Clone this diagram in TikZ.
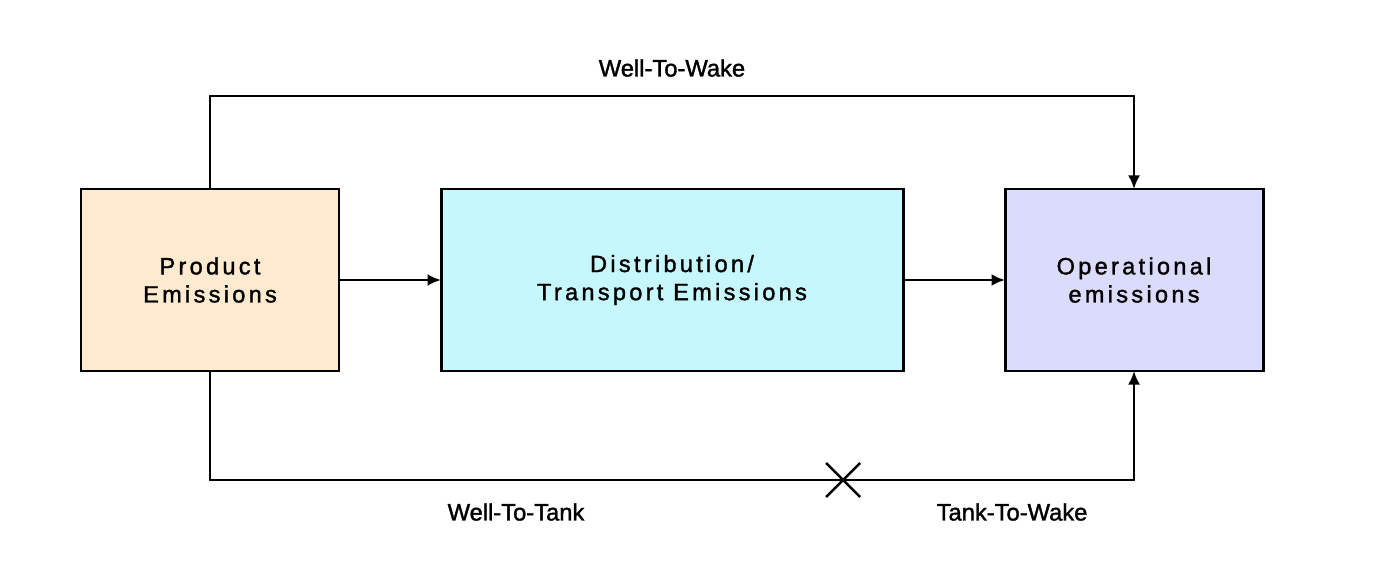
\documentclass[tikz,border=0pt]{standalone}
\usepackage{fontspec}
\setmainfont{Liberation Sans}
\usepackage{tikz}
\usetikzlibrary{arrows.meta, positioning}

\definecolor{prodfill}{HTML}{FEEBCF}
\definecolor{distfill}{HTML}{C6F7FC}
\definecolor{operfill}{HTML}{DBDBFC}

\begin{document}
\begin{tikzpicture}[
		node distance=2.04cm,
		every node/.style={font=\fontsize{12.5}{15}\selectfont},
		block/.style={
			rectangle,
			draw,
			line width=1.7pt,
			outer sep=0pt,
			align=center,
			minimum width=5.16cm,
			minimum height=3.64cm,
			inner sep=0pt,
			font=\fontsize{13.4}{16}\selectfont\addfontfeature{LetterSpace=14,FakeBold=1.5}
		},
		arrow/.style={
			-{Latex[length=0.27cm, width=0.24cm]},
			line width=1.4pt
		},
		label/.style={
			font=\fontsize{13.5}{16}\selectfont\addfontfeature{FakeBold=1.5}
		}
		]
		
		\useasboundingbox (0,0) rectangle (27.52,-11.76);
		
		% Nodes
		\node[block, fill=prodfill] (prod) at (4.2,-5.6) {Product\\Emissions};
		
		\node[block, fill=distfill, minimum width=9.24cm, right=of prod] (dist) {Distribution/\\Transport Emissions};
		
		\node[block, fill=operfill, right=of dist] (oper) {Operational\\emissions};
		
		% Arrows (main flow)
		\draw[arrow] (prod) -- (dist);
		\draw[arrow] (dist) -- (oper);
		
		% Well-to-wake loop over the top
		\draw[arrow] (prod.north) -- ++(0,1.86) -| (oper.north);
		
		% Bottom path, cut in the middle
		\draw[arrow] (prod.south) -- ++(0,-2.18) -| (oper.south);
		\coordinate (cut) at (16.86,-9.6);
		\draw[line width=1.4pt] (cut) +(-0.34,0.34) -- +(0.34,-0.34)
			(cut) +(-0.34,-0.34) -- +(0.34,0.34);
		
		% Labels
		\node[label] (wtw) at (13.44,-1.36) {Well-To-Wake};
		\node[label] (wtt) at (10.32,-10.24) {Well-To-Tank};
		\node[label] (ttw) at (20.24,-10.24) {Tank-To-Wake};
		
	\end{tikzpicture}
\end{document}
